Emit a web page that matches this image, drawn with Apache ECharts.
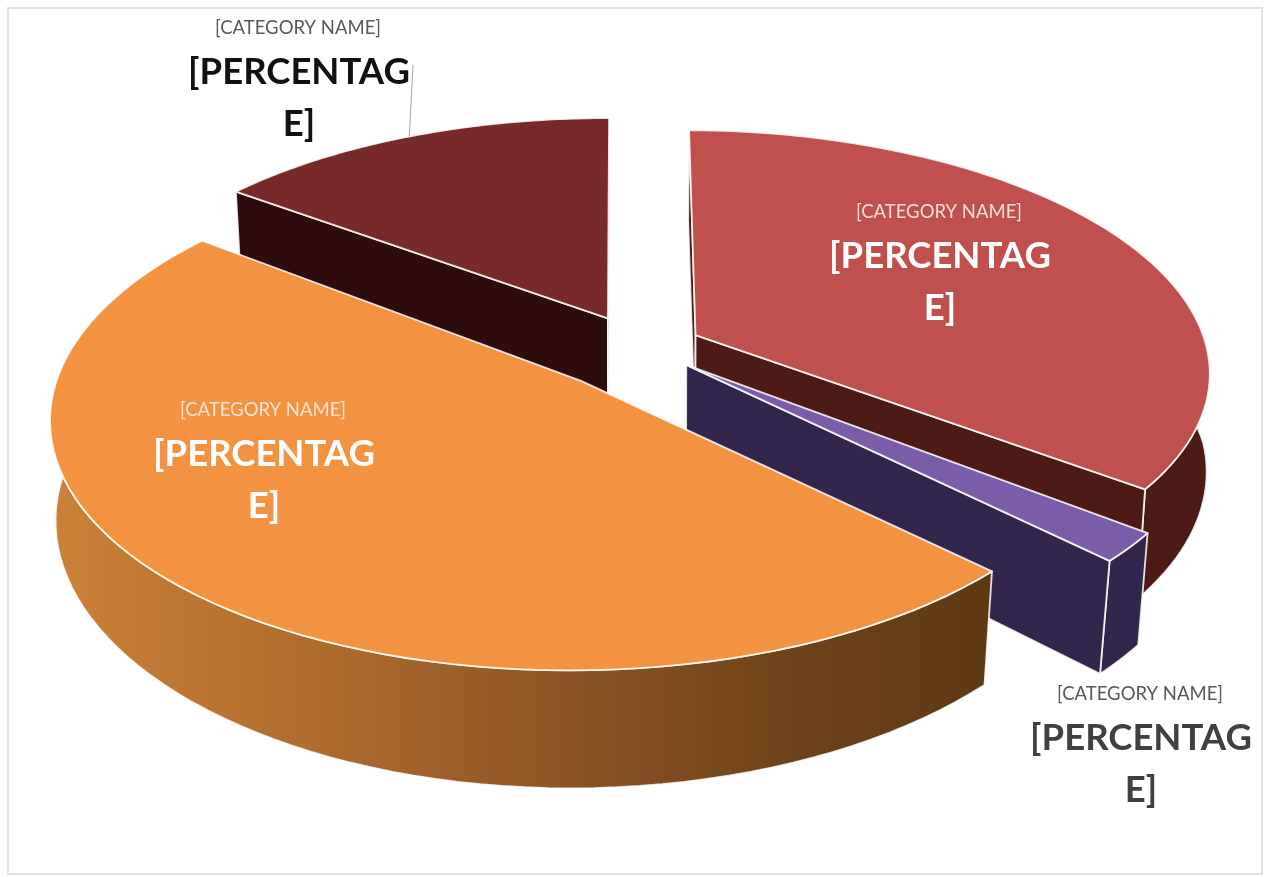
<!DOCTYPE html>
<html>
<head>
<meta charset="utf-8">
<style>
  html, body { margin: 0; background: #fff; }
  #chart { width: 1265px; height: 877px; }
</style>
<script src="https://cdn.jsdelivr.net/npm/echarts@6/dist/echarts.min.js"></script>
</head>
<body>
<div id="chart"></div>
<script>
// drawn back to front, clockwise from the orange/dark red cut
const categories = ['[CATEGORY NAME]', '[CATEGORY NAME]', '[CATEGORY NAME]', '[CATEGORY NAME]'];
const percentLabels = ['[PERCENTAG\nE]', '[PERCENTAG\nE]', '[PERCENTAG\nE]', '[PERCENTAG\nE]'];
const values = [15.2, 35.6, 1.9, 47.3];

const topColors = ['#772a29', '#c0504d', '#7b5ca8', '#f39240'];
const sideColors = ['#2e0c0e', '#4e1a15', '#33264d', '#6e4219'];
const explode = [0.146, 0.133, 0.133, 0.16];
const tipShift = [[6, 7], [0, 7], [0, 2], [0, 10]];
const nameColors = ['#595959', '#f6dcdb', '#595959', '#fbe3cf'];
const percentColors = ['#111111', '#ffffff', '#404040', '#ffffff'];
const labelCenters = [[298, 28], [939, 212], [1140, 694], [263, 410]];

// camera for the tilted pie
const view = { cx: 635, cy: 341.5, focal: 2610, dist: 5.12, tilt: 0.482, depth: 0.231, lowSpread: 0.018 };
const startAngle = 305.6;

const rad = Math.PI / 180;
const total = values.reduce((a, b) => a + b, 0);
const spans = [];
let acc = startAngle;
values.forEach(v => {
  spans.push([acc, acc + v / total * 360]);
  acc += v / total * 360;
});

function project(i, theta, low) {
  const mid = (spans[i][0] + spans[i][1]) / 2 * rad;
  let x = explode[i] * Math.sin(mid);
  let y = -explode[i] * Math.cos(mid);
  if (theta !== null) {
    x += Math.sin(theta * rad);
    y -= Math.cos(theta * rad);
  }
  const s = Math.sin(view.tilt), c = Math.cos(view.tilt);
  const z = low ? -view.depth : 0;
  const w = view.dist - y * c - z * s;
  // the underside reads a little wider at the sides than at the front
  const spread = low ? 1 + view.lowSpread * (1 - Math.min(1, Math.abs(y))) : 1;
  let px = view.focal * x / w * spread;
  let py = view.focal * (y * s - z * c) / w;
  if (theta === null) {
    px += tipShift[i][0];
    py += tipShift[i][1];
  }
  return [view.cx + px, view.cy + py];
}

function arc(i, low) {
  const pts = [];
  for (let k = 0; k <= 80; k++) {
    pts.push(project(i, spans[i][0] + (spans[i][1] - spans[i][0]) * k / 80, low));
  }
  return pts;
}

function area(pts) {
  let sum = 0;
  pts.forEach((p, k) => {
    const q = pts[(k + 1) % pts.length];
    sum += p[0] * q[1] - q[0] * p[1];
  });
  return sum;
}

const edge = { stroke: 'rgba(255,255,255,0.85)', lineWidth: 1.8, lineJoin: 'round' };

function renderSlice(params, api) {
  const i = api.value(0);
  const [a0, a1] = spans[i];
  const side = i === 3
    ? { type: 'linear', global: true, x: 50, y: 0, x2: 985, y2: 0,
        colorStops: [
          { offset: 0, color: '#cc8238' },
          { offset: 0.3, color: '#ad6a2c' },
          { offset: 0.55, color: '#8c5426' },
          { offset: 0.8, color: '#6e4219' },
          { offset: 1, color: '#5e3915' }
        ] }
    : sideColors[i];
  const cut = th => [project(i, null, false), project(i, th, false), project(i, th, true), project(i, null, true)];
  const children = [
    { type: 'polygon', shape: { points: arc(i, false).concat(arc(i, true).reverse()) }, style: { fill: side, ...edge } }
  ];
  // only the cut faces that look towards the viewer
  if (area(cut(a0)) < 0) {
    children.push({ type: 'polygon', shape: { points: cut(a0) }, style: { fill: sideColors[i], ...edge } });
  }
  if (area(cut(a1)) > 0) {
    children.push({ type: 'polygon', shape: { points: cut(a1) }, style: { fill: sideColors[i], ...edge } });
  }
  children.push({ type: 'polygon', shape: { points: [project(i, null, false)].concat(arc(i, false)) }, style: { fill: topColors[i], ...edge } });
  if (i === 0) {
    // leader line of the outside label
    const end = project(i, a0 + (a1 - a0) * 0.5, false);
    children.push({ type: 'polyline', shape: { points: [[413, 65], end] }, style: { stroke: '#a6a6a6', lineWidth: 1, fill: 'none' } });
  }
  const [lx, ly] = labelCenters[i];
  children.push({ type: 'text', z2: 10, x: lx, y: ly, style: {
    text: categories[i], fill: nameColors[i], font: '18.5px Lato', align: 'center', verticalAlign: 'middle' } });
  children.push({ type: 'text', z2: 10, x: lx + 1, y: ly + 70, style: {
    text: percentLabels[i], fill: percentColors[i], font: 'bold 36.5px Lato', lineHeight: 52, align: 'center', verticalAlign: 'middle' } });
  return { type: 'group', children };
}

const chart = echarts.init(document.getElementById('chart'));
chart.setOption({
  animation: false,
  graphic: [{
    type: 'rect', silent: true, z: -1,
    shape: { x: 8, y: 8, width: 1254, height: 866 },
    style: { fill: '#fff', stroke: '#e2e2e2', lineWidth: 2 }
  }],
  series: [{
    type: 'custom',
    coordinateSystem: 'none',
    renderItem: renderSlice,
    silent: true,
    data: values.map((v, i) => [i, v])
  }]
});
</script>
</body>
</html>
